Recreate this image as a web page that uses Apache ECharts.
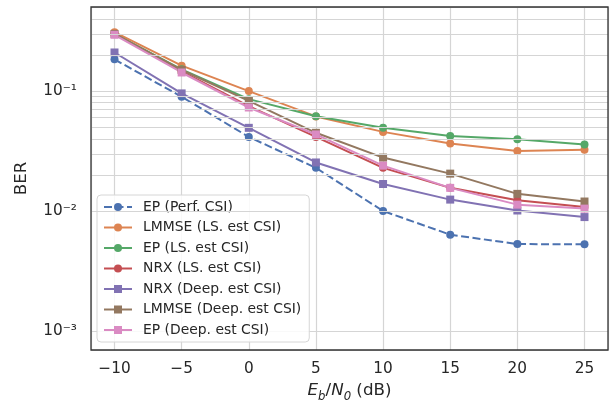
<!DOCTYPE html>
<html>
<head>
<meta charset="utf-8">
<script src="https://cdn.jsdelivr.net/npm/echarts@6/dist/echarts.min.js"></script>
<style>
html,body{margin:0;padding:0;background:#fff;}
#chart{width:610px;height:402px;}
</style>
</head>
<body>
<div id="chart"></div>
<script>
// ---- data ----
const snr = [-10, -5, 0, 5, 10, 15, 20, 25];
const epPerf    = [0.184, 0.0897, 0.0415, 0.0229, 0.0100, 0.00635, 0.0053, 0.00527];
const lmmseLS   = [0.31, 0.163, 0.100, 0.0615, 0.0457, 0.0366, 0.0316, 0.0324];
const epLS      = [0.30, 0.152, 0.0857, 0.0618, 0.0494, 0.0423, 0.0397, 0.0358];
const nrxLS     = [0.30, 0.146, 0.075, 0.0415, 0.0229, 0.0156, 0.0123, 0.0108];
const nrxDeep   = [0.21, 0.0957, 0.0494, 0.0254, 0.0168, 0.01245, 0.0101, 0.0089];
const lmmseDeep = [0.30, 0.150, 0.083, 0.0449, 0.0279, 0.0205, 0.0139, 0.0120];
const epDeep    = [0.295, 0.143, 0.073, 0.0435, 0.0239, 0.0156, 0.0113, 0.01047];

const seriesNames = ['EP (Perf. CSI)', 'LMMSE (LS. est CSI)', 'EP (LS. est CSI)', 'NRX (LS. est CSI)',
                     'NRX (Deep. est CSI)', 'LMMSE (Deep. est CSI)', 'EP (Deep. est CSI)'];
const yTickValues = [0.001, 0.01, 0.1];
const yTickLabels = ['10\u207B\u00B3', '10\u207B\u00B2', '10\u207B\u00B9'];
const xTickValues = [-10, -5, 0, 5, 10, 15, 20, 25];

// ---- styling / build ----
const colors = ['#4C72B0', '#DD8452', '#55A868', '#C44E52', '#8172B3', '#937860', '#DA8BC3'];
const symbols = ['circle', 'circle', 'circle', 'circle', 'rect', 'rect', 'rect'];
const values = [epPerf, lmmseLS, epLS, nrxLS, nrxDeep, lmmseDeep, epDeep];

const minorLines = [];
for (let k = -4; k <= -1; k++) {
  for (let m = 2; m <= 9; m++) {
    const v = m * Math.pow(10, k);
    if (v > 6.93e-4 && v < 0.503) minorLines.push({ yAxis: v });
  }
}

const series = values.map((vals, i) => ({
  name: seriesNames[i],
  type: 'line',
  data: snr.map((x, j) => [x, vals[j]]),
  symbol: symbols[i],
  symbolSize: 8,
  showSymbol: true,
  color: colors[i],
  lineStyle: { width: 2, color: colors[i], type: i === 0 ? [8, 3.5] : 'solid' },
  itemStyle: { color: colors[i] },
  z: 3,
  animation: false
}));
series.unshift({
  name: 'minorGrid',
  type: 'line',
  data: [],
  z: 1,
  silent: true,
  markLine: {
    silent: true,
    symbol: 'none',
    label: { show: false },
    lineStyle: { color: '#d5d5d5', width: 1.2, type: 'solid' },
    emphasis: { disabled: true },
    animation: false,
    data: minorLines
  }
});

const fmt = n => String(n).replace('-', '\u2212');

const option = {
  animation: false,
  backgroundColor: '#ffffff',
  textStyle: { fontFamily: 'DejaVu Sans' },
  grid: {
    left: 91, right: 2, top: 7, bottom: 52,
    outerBoundsMode: 'none',
    containLabel: false,
    z: 10,
    show: true, borderColor: '#333333', borderWidth: 1.3, backgroundColor: 'transparent'
  },
  legend: {
    data: seriesNames,
    orient: 'vertical',
    left: 97, top: 195,
    padding: [5, 8, 5, 6],
    itemWidth: 28, itemHeight: 10, itemGap: 6.5,
    backgroundColor: 'rgba(255,255,255,0.85)',
    borderColor: '#d6d6d6', borderWidth: 1, borderRadius: 4,
    textStyle: { fontFamily: 'DejaVu Sans', fontSize: 13.9, color: '#262626', lineHeight: 14, padding: [0, 0, 0, 6] },
    selectedMode: false
  },
  xAxis: {
    type: 'value',
    min: -11.75, max: 26.75,
    splitNumber: 8,
    axisLine: { show: false },
    axisTick: { show: false },
    splitLine: { show: true, lineStyle: { color: '#d5d5d5', width: 1.2 } },
    axisLabel: {
      fontFamily: 'DejaVu Sans', fontSize: 15.3, color: '#262626', margin: 12,
      showMinLabel: false, showMaxLabel: false,
      formatter: v => xTickValues.includes(v) ? fmt(v) : ''
    },
    name: '{i|E}{s|b}{n|/}{i|N}{s|0}{n| (dB)}',
    nameLocation: 'middle',
    nameGap: 29,
    nameTextStyle: {
      rich: {
        i: { fontFamily: 'DejaVu Sans', fontStyle: 'italic', fontSize: 16.7, color: '#262626', lineHeight: 24 },
        n: { fontFamily: 'DejaVu Sans', fontSize: 16.7, color: '#262626', lineHeight: 24 },
        s: { fontFamily: 'DejaVu Sans', fontStyle: 'italic', fontSize: 11.7, color: '#262626', lineHeight: 12, verticalAlign: 'bottom' }
      }
    }
  },
  yAxis: {
    type: 'log',
    logBase: 10,
    min: 6.93e-4, max: 0.503,
    axisLine: { show: false },
    axisTick: { show: false },
    splitLine: { show: true, lineStyle: { color: '#d5d5d5', width: 1.2 } },
    axisLabel: {
      fontFamily: 'DejaVu Sans', fontSize: 15.3, color: '#262626', margin: 14,
      formatter: v => {
        for (let i = 0; i < yTickValues.length; i++) {
          if (Math.abs(Math.log10(v) - Math.log10(yTickValues[i])) < 0.01) return yTickLabels[i];
        }
        return '';
      }
    },
    name: 'BER',
    nameLocation: 'middle',
    nameGap: 61,
    nameTextStyle: { fontFamily: 'DejaVu Sans', fontSize: 16.7, color: '#262626' }
  },
  series: series
};

const chart = echarts.init(document.getElementById('chart'), null, { renderer: 'canvas' });
chart.setOption(option);
</script>
</body>
</html>
